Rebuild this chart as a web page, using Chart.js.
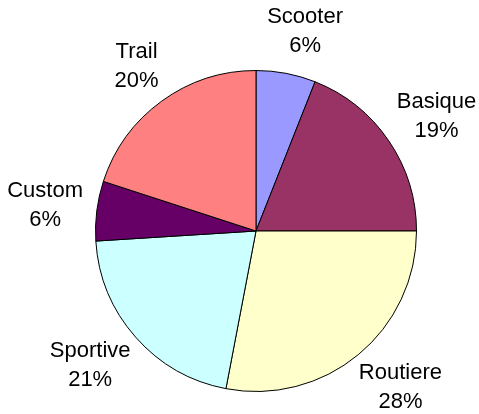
<!DOCTYPE html>
<html>
  <head>
    <script src="https://cdn.jsdelivr.net/npm/chart.js"></script>
    <style>
      body { margin: 0; background: #fff; }
      #wrap { width: 479px; height: 414px; }
    </style>
  </head>
  <body>
    <div id="wrap"><canvas id="pie"></canvas></div>
    <script>
      const labels = ["Scooter", "Basique", "Routiere", "Sportive", "Custom", "Trail"];
      const shares = [6, 19, 28, 21, 6, 20];
      const colors = ["#9999FF", "#993366", "#FFFFCC", "#CCFFFF", "#660066", "#FF8080"];

      // draws "name / pct%" outside each slice, pushed out along the mid angle
      const outsideLabels = {
        id: "outsideLabels",
        afterDatasetsDraw(chart) {
          const ctx = chart.ctx;
          const meta = chart.getDatasetMeta(0);
          const lineH = 29;
          const gap = 14;
          ctx.save();
          ctx.font = "22px 'Liberation Sans', Arial, sans-serif";
          ctx.fillStyle = "#000";
          ctx.textAlign = "center";
          ctx.textBaseline = "middle";
          meta.data.forEach((arc, i) => {
            const p = arc.getProps(["x", "y", "startAngle", "endAngle", "outerRadius"], true);
            const mid = (p.startAngle + p.endAngle) / 2;
            const dx = Math.cos(mid), dy = Math.sin(mid);
            const l1 = labels[i], l2 = shares[i] + "%";
            const w = Math.max(ctx.measureText(l1).width, ctx.measureText(l2).width);
            const h = lineH * 2;
            // push boxes a bit more sideways, like Excel's outside-end labels
            const sx = Math.sign(dx) * Math.sqrt(Math.abs(dx));
            const cx = p.x + dx * (p.outerRadius + gap) + sx * w / 2;
            const cy = p.y + dy * (p.outerRadius + gap) + dy * h / 2;
            ctx.fillText(l1, cx, cy - lineH / 2);
            ctx.fillText(l2, cx, cy + lineH / 2);
          });
          ctx.restore();
        },
      };

      new Chart(document.getElementById("pie"), {
        type: "pie",
        data: {
          labels: labels,
          datasets: [
            {
              data: shares,
              backgroundColor: colors,
              borderColor: "#000",
              borderWidth: 1,
            },
          ],
        },
        options: {
          responsive: true,
          maintainAspectRatio: false,
          animation: false,
          layout: { padding: { left: 95, right: 62, top: 70, bottom: 22 } },
          plugins: {
            legend: { display: false },
            tooltip: { enabled: false },
          },
        },
        plugins: [outsideLabels],
      });
    </script>
  </body>
</html>
